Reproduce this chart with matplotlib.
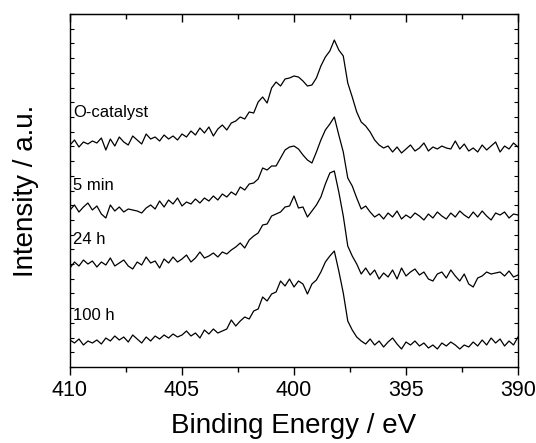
import numpy as np
import matplotlib
matplotlib.use('Agg')
import matplotlib.pyplot as plt
from matplotlib.ticker import MultipleLocator

plt.rcParams['font.family'] = ['Liberation Sans', 'DejaVu Sans']

# binding energy grid, 410 -> 390 eV in 0.2 eV steps
energy = np.round(np.arange(410.0, 389.99, -0.2), 1)

# N 1s spectra (a.u., already stacked)
o_catalyst = [222, 227, 220, 225, 223, 226, 224, 229, 217, 228, 221, 230, 225, 222, 231, 227, 223, 233, 228, 230,
              226, 232, 228, 231, 227, 233, 230, 236, 232, 239, 234, 240, 231, 238, 242, 237, 244, 246, 250, 248,
              255, 254, 265, 270, 264, 279, 285, 281, 288, 289, 291, 290, 286, 281, 282, 289, 301, 310, 316, 327,
              317, 311, 284, 270, 255, 245, 241, 235, 227, 222, 219, 221, 215, 220, 214, 218, 222, 216, 219, 224,
              216, 220, 218, 221, 219, 218, 226, 218, 223, 216, 219, 215, 222, 217, 221, 225, 215, 221, 218, 224, 220]
min_5 = [157, 162, 155, 160, 164, 157, 161, 153, 149, 162, 156, 160, 155, 158, 157, 156, 154, 159, 162, 158,
         166, 160, 167, 163, 169, 161, 165, 163, 168, 164, 169, 166, 171, 167, 173, 170, 175, 172, 180, 177,
         183, 184, 188, 199, 197, 201, 201, 209, 217, 220, 221, 218, 212, 207, 204, 215, 227, 237, 243, 250,
         232, 215, 189, 181, 169, 158, 161, 155, 150, 153, 148, 154, 150, 156, 148, 152, 149, 154, 151, 147,
         153, 149, 155, 151, 148, 154, 150, 156, 152, 149, 155, 150, 156, 151, 147, 154, 152, 155, 149, 153, 152]
h_24 = [99, 105, 101, 107, 103, 106, 100, 105, 102, 109, 101, 104, 107, 101, 98, 105, 102, 110, 104, 106,
        99, 108, 104, 110, 105, 108, 112, 105, 109, 115, 109, 111, 114, 110, 115, 113, 117, 120, 124, 119,
        127, 131, 134, 142, 143, 151, 153, 155, 160, 161, 171, 159, 160, 150, 156, 162, 170, 183, 194, 196,
        175, 151, 121, 111, 103, 93, 99, 92, 97, 88, 94, 90, 97, 88, 99, 91, 95, 98, 92, 95,
        88, 86, 93, 95, 89, 97, 91, 86, 93, 83, 80, 89, 91, 95, 93, 94, 95, 91, 96, 90, 92]
h_100 = [27, 24, 28, 22, 26, 24, 27, 23, 29, 26, 31, 27, 30, 25, 32, 28, 24, 30, 26, 31,
         28, 32, 29, 33, 30, 32, 36, 31, 34, 29, 37, 33, 38, 34, 36, 38, 47, 41, 46, 50,
         48, 56, 58, 70, 66, 73, 75, 86, 81, 88, 80, 86, 83, 73, 83, 87, 95, 105, 111, 116,
         96, 74, 46, 37, 30, 26, 23, 28, 22, 26, 20, 25, 29, 23, 18, 25, 22, 26, 21, 24,
         19, 22, 18, 24, 21, 25, 22, 18, 22, 20, 25, 21, 27, 22, 29, 24, 28, 21, 26, 22, 30]

labels = ['O-catalyst', '5 min', '24 h', '100 h']
label_y = [255, 182, 127, 52]

fig = plt.figure(figsize=(5.36, 4.43), dpi=100)
ax = fig.add_axes([70 / 536, 76 / 443, 448 / 536, 353 / 443])

for trace in (o_catalyst, min_5, h_24, h_100):
    ax.plot(energy[:len(trace)], trace, color='black', lw=0.9)

for name, y in zip(labels, label_y):
    ax.text(409.85, y, name, fontsize=12, va='center', ha='left')

ax.set_xlim(410, 390)
ax.set_ylim(0, 353)
ax.xaxis.set_major_locator(MultipleLocator(5))
ax.xaxis.set_minor_locator(MultipleLocator(2.5))
ax.yaxis.set_major_locator(MultipleLocator(353 / 24))
ax.set_yticklabels([])
ax.tick_params(axis='x', which='major', direction='out', length=6, width=1, labelsize=15.5, pad=3)
ax.tick_params(axis='x', which='minor', direction='out', length=3.5, width=1)
ax.tick_params(axis='y', which='major', direction='in', length=3, width=0.8, left=True, right=True)

# top ticks point inwards
top = ax.secondary_xaxis('top')
top.xaxis.set_major_locator(MultipleLocator(5))
top.xaxis.set_minor_locator(MultipleLocator(2.5))
top.tick_params(which='major', direction='in', length=6, width=1, labeltop=False)
top.tick_params(which='minor', direction='in', length=3.5, width=1)

for s in ax.spines.values():
    s.set_linewidth(1)

ax.set_xlabel('Binding Energy / eV', fontsize=20, labelpad=9)
ax.set_ylabel('Intensity / a.u.', fontsize=20, labelpad=19)

fig.savefig('out.png', dpi=100)
